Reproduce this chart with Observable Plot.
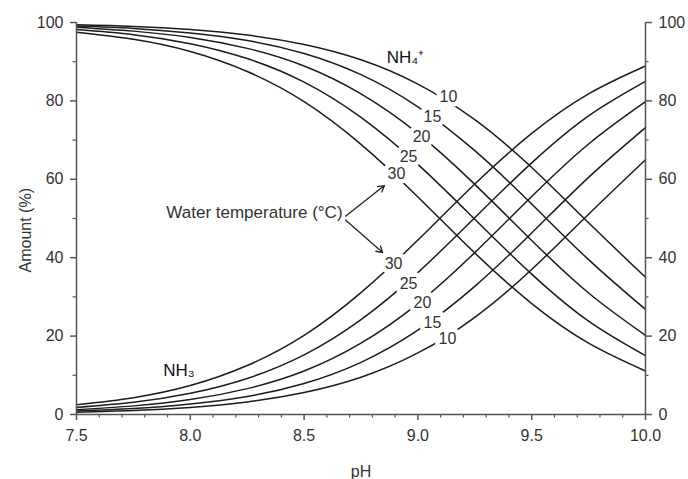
<!DOCTYPE html>
<html>
<head>
<meta charset="utf-8">
<script src="https://cdn.jsdelivr.net/npm/d3@7"></script>
<script src="https://cdn.jsdelivr.net/npm/@observablehq/plot@0.6"></script>
<style>
  html, body { margin: 0; padding: 0; background: #fff; }
</style>
</head>
<body>
<div id="chart"></div>
<script>
// ---- data ----
const pH = [7.5, 7.75, 8.0, 8.25, 8.5, 8.75, 9.0, 9.25, 9.5, 9.75, 10.0];
const temps = [10, 15, 20, 25, 30];

const nh3_10 = [0.6, 1.0, 1.8, 3.2, 5.6, 9.5, 15.7, 24.8, 37.0, 51.1, 65.0];
const nh3_15 = [0.9, 1.5, 2.7, 4.6, 7.9, 13.3, 21.5, 32.7, 46.3, 60.5, 73.2];
const nh3_20 = [1.2, 2.2, 3.8, 6.6, 11.1, 18.2, 28.3, 41.3, 55.6, 69.0, 79.8];
const nh3_25 = [1.8, 3.1, 5.4, 9.2, 15.2, 24.2, 36.2, 50.2, 64.2, 76.2, 85.0];
const nh3_30 = [2.5, 4.3, 7.4, 12.5, 20.2, 31.1, 44.5, 58.8, 71.7, 81.8, 88.9];

const nh4_10 = [99.4, 99.0, 98.2, 96.8, 94.4, 90.5, 84.3, 75.2, 63.0, 48.9, 35.0];
const nh4_15 = [99.1, 98.5, 97.3, 95.4, 92.1, 86.7, 78.5, 67.3, 53.7, 39.5, 26.8];
const nh4_20 = [98.8, 97.8, 96.2, 93.4, 88.9, 81.8, 71.7, 58.7, 44.4, 31.0, 20.2];
const nh4_25 = [98.2, 96.9, 94.6, 90.8, 84.8, 75.8, 63.8, 49.8, 35.8, 23.8, 15.0];
const nh4_30 = [97.5, 95.7, 92.6, 87.5, 79.8, 68.9, 55.5, 41.2, 28.3, 18.2, 11.1];

// curve labels (temperature) positions in data units
const nh4LabelPH  = [9.134, 9.064, 9.016, 8.959, 8.906];
const nh4LabelVal = [80.9, 75.8, 70.7, 65.6, 61.5];
const nh3LabelPH  = [9.130, 9.064, 9.020, 8.959, 8.893];
const nh3LabelVal = [19.4, 23.5, 28.6, 33.2, 38.5];

// annotation
const annoText = ["Water temperature (°C)"];
const annoPH = [8.669];
const annoVal = [51.5];
const arrowX1 = [8.682, 8.682];
const arrowY1 = [50.6, 49.6];
const arrowX2 = [8.853, 8.845];
const arrowY2 = [58.4, 41.3];

const speciesText = ["NH₄⁺", "NH₃"];
const speciesPH = [8.945, 7.950];
const speciesVal = [91.1, 11.2];

// axis titles
const yTitle = ["Amount (%)"];
const yTitlePH = [7.5];
const yTitleVal = [47];
const xTitle = ["pH"];
const xTitlePH = [8.75];
const xTitleVal = [0];

// ticks
const xMajor = [7.5, 8.0, 8.5, 9.0, 9.5, 10.0];
const xMinor = [7.6, 7.7, 7.8, 7.9, 8.1, 8.2, 8.3, 8.4, 8.6, 8.7, 8.8, 8.9, 9.1, 9.2, 9.3, 9.4, 9.6, 9.7, 9.8, 9.9];
const yMajor = [0, 20, 40, 60, 80, 100];
const yMinor = [10, 30, 50, 70, 90];

// ---- build tables ----
const nh3Series = [nh3_10, nh3_15, nh3_20, nh3_25, nh3_30];
const nh4Series = [nh4_10, nh4_15, nh4_20, nh4_25, nh4_30];
const rows = [];
temps.forEach((t, i) => {
  pH.forEach((p, j) => rows.push({pH: p, v: nh3Series[i][j], key: "NH3-" + t}));
  pH.forEach((p, j) => rows.push({pH: p, v: nh4Series[i][j], key: "NH4-" + t}));
});
const labels = [];
temps.forEach((t, i) => {
  labels.push({pH: nh4LabelPH[i], v: nh4LabelVal[i], t: String(t)});
  labels.push({pH: nh3LabelPH[i], v: nh3LabelVal[i], t: String(t)});
});
const arrows = arrowX1.map((d, i) => ({x1: d, y1: arrowY1[i], x2: arrowX2[i], y2: arrowY2[i]}));
const species = speciesText.map((d, i) => ({t: d, pH: speciesPH[i], v: speciesVal[i]}));

const axisColor = "#555";
const textColor = "#333";
const W = 688, H = 479, ML = 76, MR = 43, MT = 22, MB = 65;
const frameW = W - ML - MR, frameH = H - MT - MB;

const chart = Plot.plot({
  width: W,
  height: H,
  marginLeft: ML,
  marginRight: MR,
  marginTop: MT,
  marginBottom: MB,
  style: {fontFamily: "'Liberation Sans', Arial, sans-serif", fontSize: "16px", color: textColor, background: "#fff"},
  x: {domain: [7.5, 10]},
  y: {domain: [0, 100]},
  marks: [
    Plot.line(rows, {x: "pH", y: "v", z: "key", curve: "natural", stroke: "#1c1c1c", strokeWidth: 1.5}),
    Plot.text(labels, {x: "pH", y: "v", text: "t", fill: textColor, stroke: "white", strokeWidth: 9, fontSize: 16}),
    Plot.text(species, {x: "pH", y: "v", text: "t", fill: "#111", fontSize: 17}),
    Plot.text(annoText, {x: annoPH, y: annoVal, text: d => d, textAnchor: "end", fill: textColor, fontSize: 17}),
    Plot.arrow(arrows, {x1: "x1", y1: "y1", x2: "x2", y2: "y2", stroke: "#222", strokeWidth: 1.3, headLength: 8}),
    Plot.ruleX([7.5, 10], {stroke: axisColor, strokeWidth: 1.5}),
    Plot.ruleY([0], {stroke: axisColor, strokeWidth: 1.5}),
    Plot.axisX({ticks: xMajor, tickSize: 6, tickPadding: 9, tickFormat: d3.format(".1f"), label: null, stroke: axisColor, strokeWidth: 1.5}),
    Plot.tickX(xMinor, {x: d => d, insetTop: frameH, insetBottom: -3.5, stroke: axisColor, strokeWidth: 1.2}),
    Plot.axisY({anchor: "left", ticks: yMajor, tickSize: 6, tickPadding: 7, label: null, stroke: axisColor, strokeWidth: 1.5}),
    Plot.tickY(yMinor, {y: d => d, insetLeft: -3.5, insetRight: frameW, stroke: axisColor, strokeWidth: 1.2}),
    Plot.axisY({anchor: "right", ticks: yMajor, tickSize: 6, tickPadding: 7, label: null, stroke: axisColor, strokeWidth: 1.5}),
    Plot.tickY(yMinor, {y: d => d, insetLeft: frameW, insetRight: -3.5, stroke: axisColor, strokeWidth: 1.2}),
    Plot.text(yTitle, {x: yTitlePH, y: yTitleVal, dx: -51, rotate: -90, text: d => d, fill: textColor, fontSize: 16}),
    Plot.text(xTitle, {x: xTitlePH, y: xTitleVal, dy: 57, text: d => d, fill: textColor, fontSize: 16})
  ]
});
document.getElementById("chart").appendChild(chart);
</script>
</body>
</html>
